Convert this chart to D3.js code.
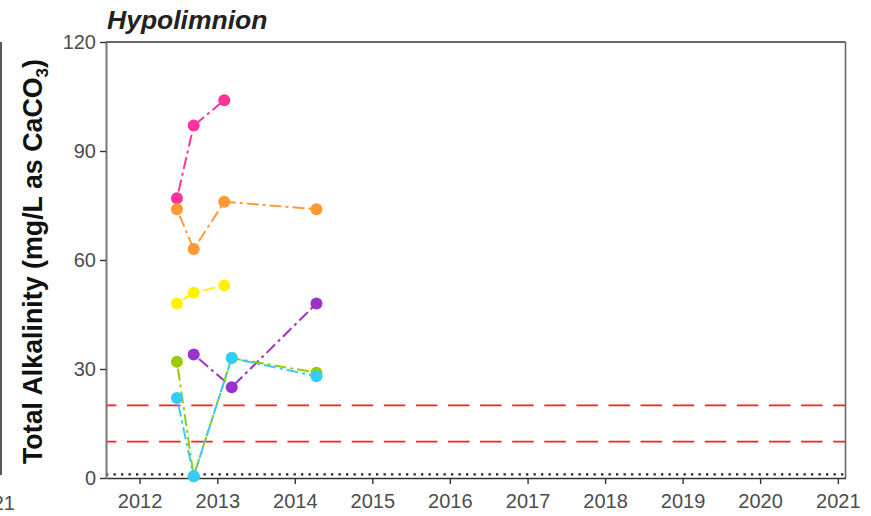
<!DOCTYPE html>
<html>
<head>
<meta charset="utf-8">
<script src="https://cdn.jsdelivr.net/npm/d3@7"></script>
<style>
  body { margin: 0; background: #fff; }
  svg { display: block; }
  text { font-family: "Liberation Sans", Arial, Helvetica, sans-serif; }
</style>
</head>
<body>
<svg id="chart" width="871" height="516"></svg>
<script>
// ---- data ----
const sampleDates = ["2012-06-25", "2012-09-12", "2013-02-03", "2013-03-10", "2014-04-13"];
const seriesNames = ["Site A", "Site B", "Site C", "Site D", "Site E", "Site F"];
const seriesColors = ["#FF3399", "#FF9933", "#FFF200", "#9933CC", "#99CC00", "#33CCFF"];
const siteA = [77, 97, 104, null, null];
const siteB = [74, 63, 76, null, 74];
const siteC = [48, 51, 53, null, null];
const siteD = [null, 34, null, 25, 48];
const siteE = [32, 0.5, null, 33, 29];
const siteF = [22, 0.5, null, 33, 28];
const seriesValues = [siteA, siteB, siteC, siteD, siteE, siteF];
const yTicks = [0, 30, 60, 90, 120];
const xTickYears = [2012, 2013, 2014, 2015, 2016, 2017, 2018, 2019, 2020, 2021];
const guideLines = [20, 10];
const detectionLimit = 1;
const chartTitle = "Hypolimnion";

// ---- layout ----
const svg = d3.select("#chart");
const parse = d3.timeParse("%Y-%m-%d");
const pLeft = 106, pRight = 845.5, pTop = 42, pBottom = 478;

const x = d3.scaleTime()
  .domain([new Date(2011, 6, 27), new Date(2021, 1, 6)])
  .range([pLeft, pRight]);
const y = d3.scaleLinear().domain([0, 120]).range([pBottom, pTop]);

// leftover edge of the previous panel
svg.append("line").attr("x1", 1).attr("x2", 1).attr("y1", pTop).attr("y2", 475)
  .attr("stroke", "#222").attr("stroke-width", 1.5);
svg.append("text").attr("x", 15).attr("y", 510).attr("text-anchor", "end")
  .attr("font-size", 20).attr("fill", "#4d4d4d").text("2021");

// panel border (top/right)
svg.append("line").attr("x1", pLeft).attr("x2", pRight).attr("y1", pTop).attr("y2", pTop)
  .attr("stroke", "#333").attr("stroke-width", 1.3);
svg.append("line").attr("x1", pRight).attr("x2", pRight).attr("y1", pTop).attr("y2", pBottom)
  .attr("stroke", "#666").attr("stroke-width", 1.6);

// reference lines
svg.selectAll("line.guide").data(guideLines).enter().append("line")
  .attr("class", "guide")
  .attr("x1", pLeft).attr("x2", pRight)
  .attr("y1", d => y(d)).attr("y2", d => y(d))
  .attr("stroke", "#FF1F1F").attr("stroke-width", 1.6)
  .attr("stroke-dasharray", "21.5,10.6").attr("stroke-dashoffset", 11.1);

svg.append("line")
  .attr("x1", pLeft).attr("x2", pRight)
  .attr("y1", y(detectionLimit)).attr("y2", y(detectionLimit))
  .attr("stroke", "#222").attr("stroke-width", 2.2)
  .attr("stroke-dasharray", "2.3,5.2");

// axes
const xAxis = d3.axisBottom(x)
  .tickValues(xTickYears.map(yr => new Date(yr, 0, 1)))
  .tickFormat(d3.timeFormat("%Y"))
  .tickSize(6).tickPadding(10).tickSizeOuter(0);
const gx = svg.append("g").attr("transform", `translate(0,${pBottom})`).call(xAxis);
gx.select(".domain").attr("stroke", "#333").attr("stroke-width", 1.5);
gx.selectAll(".tick line").attr("stroke", "#333").attr("stroke-width", 1.4);
gx.selectAll(".tick text").attr("font-size", 20).attr("fill", "#4d4d4d")
  .attr("font-family", "Liberation Sans, Arial, sans-serif");

const yAxis = d3.axisLeft(y).tickValues(yTicks).tickSize(6).tickPadding(4).tickSizeOuter(0);
const gy = svg.append("g").attr("transform", `translate(${pLeft},0)`).call(yAxis);
gy.select(".domain").attr("stroke", "#777").attr("stroke-width", 2);
gy.selectAll(".tick line").attr("stroke", "#333").attr("stroke-width", 1.4);
gy.selectAll(".tick text").attr("font-size", 20).attr("fill", "#4d4d4d")
  .attr("font-family", "Liberation Sans, Arial, sans-serif");

// series
const series = seriesNames.map((name, i) => ({
  name,
  color: seriesColors[i],
  pts: sampleDates.map((d, j) => ({ date: parse(d), v: seriesValues[i][j] }))
    .filter(p => p.v !== null)
}));

const line = d3.line().x(d => x(d.date)).y(d => y(d.v));
svg.append("g").selectAll("path").data(series).enter().append("path")
  .attr("d", s => line(s.pts))
  .attr("fill", "none")
  .attr("stroke", s => s.color)
  .attr("stroke-width", 2)
  .attr("stroke-dasharray", "3,4,12,4");

const pg = svg.append("g");
series.forEach(s => {
  pg.selectAll(null).data(s.pts).enter().append("circle")
    .attr("cx", d => x(d.date)).attr("cy", d => y(d.v)).attr("r", 6)
    .attr("fill", s.color);
});

// titles
svg.append("text").attr("x", 107).attr("y", 29)
  .attr("font-size", 26.5).attr("font-weight", "bold").attr("font-style", "italic")
  .attr("fill", "#222").text(chartTitle);

const yt = svg.append("text")
  .attr("transform", "translate(41.5,261.5) rotate(-90)")
  .attr("text-anchor", "middle")
  .attr("font-size", 26.8).attr("font-weight", "bold").attr("fill", "#111");
yt.append("tspan").text("Total Alkalinity (mg/L as CaCO");
yt.append("tspan").attr("font-size", 17).attr("dy", 6).text("3");
yt.append("tspan").attr("dy", -6).text(")");
</script>
</body>
</html>
